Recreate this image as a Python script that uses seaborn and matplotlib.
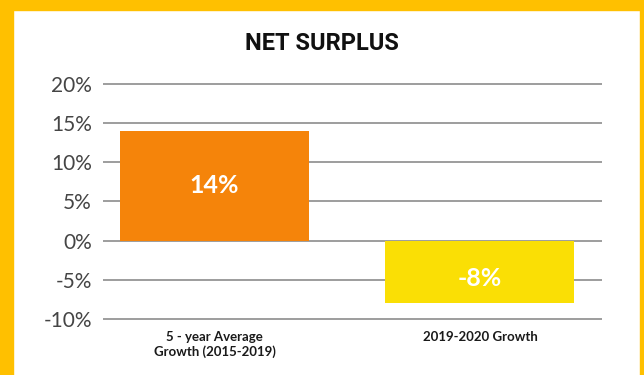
import matplotlib
matplotlib.use("Agg")
import matplotlib.pyplot as plt
import seaborn as sns
import pandas as pd
from matplotlib.patches import Rectangle

# Data
categories = ["5 - year Average\nGrowth (2015-2019)", "2019-2020 Growth"]
values = [14, -8]
bar_colors = ["#F5840A", "#FADF05"]
yticks = [-10, -5, 0, 5, 10, 15, 20]
ytick_labels = [f"{t}%" for t in yticks]
title = "NET SURPLUS"

sns.set_theme(style="white")
plt.rcParams['font.family'] = ['Lato', 'DejaVu Sans']

fig = plt.figure(figsize=(6.44, 3.75), dpi=100)
fig.patch.set_facecolor("white")

# yellow frame (top, left, right)
border = "#FFC000"
fig.patches.append(Rectangle((0, 1 - 10/375), 1, 10/375, transform=fig.transFigure, color=border, zorder=0))
fig.patches.append(Rectangle((0, 0), 13/644, 1, transform=fig.transFigure, color=border, zorder=0))
fig.patches.append(Rectangle((1 - 4/644, 0), 4/644, 1, transform=fig.transFigure, color=border, zorder=0))

ax = fig.add_axes([103/644, 1 - 321.3/375, 499/644, (321.3 - 81.65)/375])
ax.set_facecolor("none")

df = pd.DataFrame({"cat": categories, "val": values})
sns.barplot(data=df, x="cat", y="val", hue="cat", palette=bar_colors,
            width=0.712, legend=False, ax=ax, saturation=1, linewidth=0)

ax.set_xlim(-0.42, 1.46)
ax.set_ylim(-10.3, 20.3)
ax.set_yticks(yticks)
ax.set_yticklabels(ytick_labels, fontsize=15, color="#454545")
ax.yaxis.grid(True, color="#8c8c8c", linewidth=1.2)
ax.set_axisbelow(True)
for s in ax.spines.values():
    s.set_visible(False)
ax.tick_params(axis="y", length=0, pad=8)
ax.tick_params(axis="x", length=0, pad=7)
for lbl in ax.get_xticklabels():
    lbl.set_fontsize(9.5)
    lbl.set_fontweight("bold")
    lbl.set_color("#1a1a1a")
ax.set_xlabel("")
ax.set_ylabel("")

for i, v in enumerate(values):
    off = 0 if v >= 0 else -7
    ax.annotate(f"{v}%", xy=(i, v / 2), xytext=(0, off), textcoords="offset pixels",
                ha="center", va="center", color="white", fontsize=18, fontweight="bold")

fig.text(0.5, 1 - 43.5/375, title, ha="center", va="center", fontsize=17,
         fontweight="bold", color="#111111", family=["Roboto", "DejaVu Sans"])

fig.savefig("out.png", dpi=100, facecolor="white")
